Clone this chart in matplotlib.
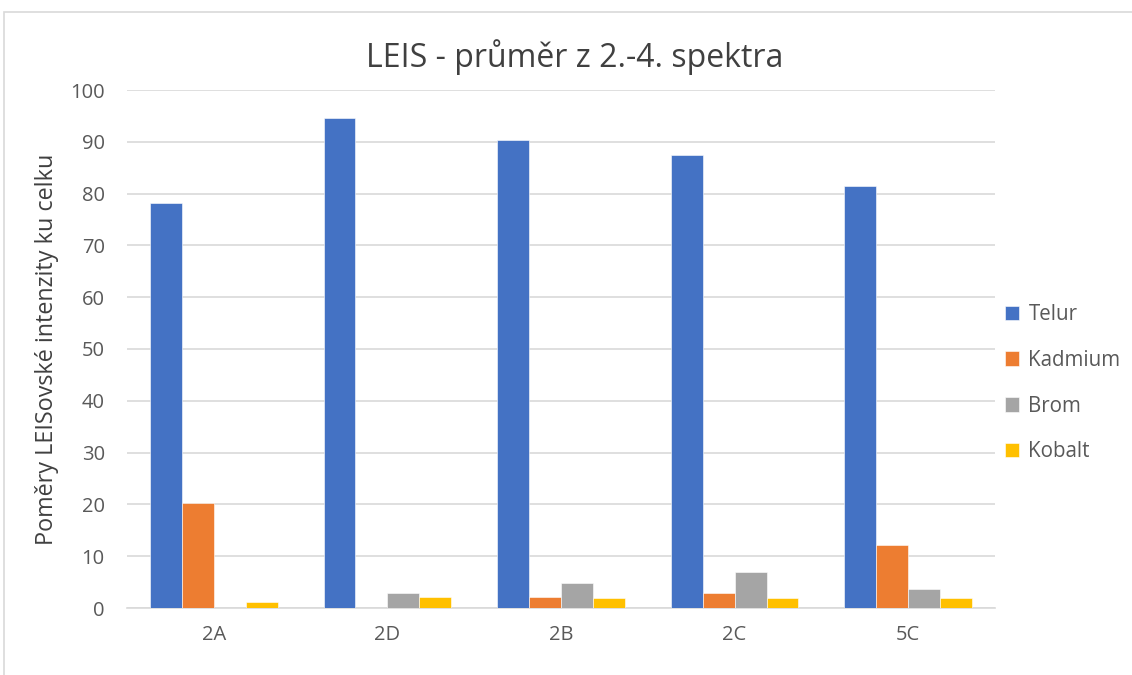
import matplotlib
matplotlib.use("Agg")
import matplotlib.pyplot as plt
import numpy as np
from matplotlib.patches import Rectangle

categories = ["2A", "2D", "2B", "2C", "5C"]
series_names = ["Telur", "Kadmium", "Brom", "Kobalt"]
telur = [78.2, 94.6, 90.4, 87.4, 81.4]
kadmium = [20.3, 0.0, 2.2, 2.9, 12.1]
brom = [0.0, 2.9, 4.9, 6.9, 3.7]
kobalt = [1.2, 2.2, 2.0, 2.0, 2.0]
colors = ["#4472C4", "#ED7D31", "#A5A5A5", "#FFC000"]
yticks = [0, 10, 20, 30, 40, 50, 60, 70, 80, 90, 100]

plt.rcParams['font.family'] = ['Open Sans', 'DejaVu Sans']

fig = plt.figure(figsize=(11.32, 6.75), dpi=100)
fig.patch.set_facecolor("white")
# outer chart border
fig.add_artist(Rectangle((4/1132, -0.01), 1.2, 1 - 12/675 + 0.01, transform=fig.transFigure,
                         fill=False, edgecolor="#D9D9D9", linewidth=1.2))

ax = fig.add_axes([127/1132, 1 - 608/675, (995 - 127)/1132, (608 - 90)/675])
x = np.arange(len(categories))
bw = 0.184
data = [telur, kadmium, brom, kobalt]
for i, (name, vals) in enumerate(zip(series_names, data)):
    ax.bar(x + (i - 1.5) * bw, vals, width=bw, color=colors[i], label=name, zorder=3,
           edgecolor="white", linewidth=0.4)

ax.set_xlim(-0.5, len(categories) - 0.5)
ax.set_ylim(0, 100)
ax.set_yticks(yticks)
ax.set_xticks(x)
ax.set_xticklabels(categories)
ax.grid(axis="y", color="#D9D9D9", linewidth=1.2, zorder=0)
for s in ["top", "right", "left"]:
    ax.spines[s].set_visible(False)
ax.spines["bottom"].set_color("#D9D9D9")
ax.spines["bottom"].set_linewidth(1.2)
ax.tick_params(axis="both", length=0, colors="#595959", labelsize=14.5)
ax.tick_params(axis="y", pad=16)
ax.tick_params(axis="x", pad=12)

ax.set_ylabel("Poměry LEISovské intenzity ku celku", fontsize=16.8, color="#404040", labelpad=8)
fig.text(575/1132, 1 - 57/675, "LEIS - průměr z 2.-4. spektra", ha="center", va="center",
         fontsize=23, color="#404040")

leg = ax.legend(loc="center left", bbox_to_anchor=(0.99, 0.434), frameon=False,
                fontsize=14.8, labelspacing=1.2, handlelength=0.7, handleheight=0.7,
                handletextpad=0.45)
for t in leg.get_texts():
    t.set_color("#595959")

fig.savefig("out.png", dpi=100)
